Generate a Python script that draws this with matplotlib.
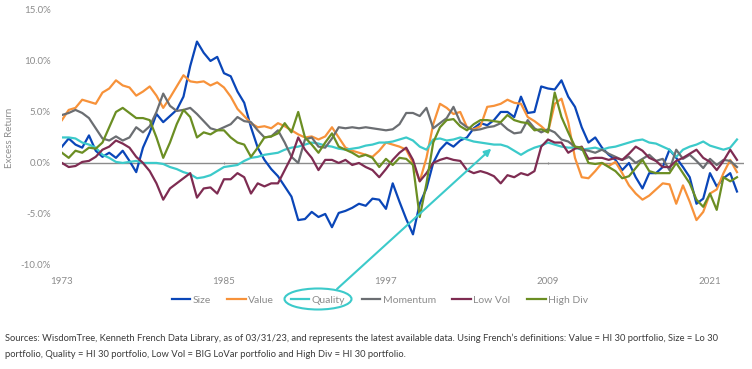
import numpy as np
import matplotlib
matplotlib.use("Agg")
import matplotlib.pyplot as plt
from matplotlib import font_manager
from matplotlib.patches import Ellipse

# semi-annual readings, 1973.0 -> 2023.0 (excess return, %)
years = np.arange(1973, 2023.5, 0.5)

size = [1.6, 2.4, 1.8, 1.5, 2.7, 1.2, 0.6, 1.0, 0.5, 1.2,
        0.2, -0.9, 1.5, 3.0, 4.8, 4.0, 4.6, 5.2, 6.5, 9.5,
        11.9, 10.8, 10.0, 10.4, 8.8, 8.5, 7.0, 5.9, 3.5, 1.5,
        0.3, -0.6, -1.3, -2.3, -3.3, -5.6, -5.5, -4.8, -5.3, -5.0,
        -6.3, -4.9, -4.7, -4.4, -4.0, -4.2, -3.5, -3.6, -4.5, -2.0,
        -3.8, -5.5, -7.0, -4.0, -2.5, 0.0, 1.3, 2.0, 1.6, 2.2,
        2.5, 3.4, 3.9, 3.7, 4.2, 5.0, 5.0, 4.5, 6.5, 4.9,
        5.0, 7.5, 7.3, 7.2, 8.1, 6.5, 5.5, 3.5, 2.0, 2.5,
        1.5, 0.8, 0.3, -0.7, 0.0, -1.4, -2.5, -1.0, -1.0, -0.4,
        1.3, 0.5, -0.4, -1.4, -4.0, -3.5, -1.0, -2.3, -1.5, -1.0,
        -2.8]
value = [4.2, 5.2, 5.4, 6.2, 6.0, 5.8, 6.9, 7.3, 8.1, 7.6,
         7.4, 6.6, 7.0, 7.5, 6.6, 5.4, 6.4, 7.5, 8.6, 8.0,
         7.9, 8.0, 7.6, 7.9, 7.4, 6.5, 5.3, 4.6, 3.9, 3.5,
         3.6, 3.4, 3.9, 3.6, 3.2, 2.8, 2.5, 2.6, 2.3, 2.6,
         3.5, 2.5, 1.5, 1.2, 1.0, 0.8, 0.6, 1.2, 2.0, 1.8,
         1.6, 1.3, 0.0, -1.8, 0.5, 3.8, 5.8, 5.4, 4.8, 5.0,
         3.5, 3.3, 3.6, 5.5, 5.6, 5.8, 6.2, 5.9, 5.8, 4.5,
         4.1, 3.6, 3.0, 5.8, 6.3, 4.0, 0.5, -1.4, -1.5, -0.8,
         0.0, -0.3, 0.1, -1.0, -2.2, -3.0, -3.6, -3.2, -2.6, -2.0,
         -2.1, -4.0, -2.2, -3.8, -5.6, -4.8, -3.0, -2.6, -1.0, 0.3,
         -0.9]
quality = [2.5, 2.5, 2.4, 2.0, 1.8, 1.5, 0.8, 0.5, 0.1, 0.0,
           0.1, 0.2, 0.0, 0.0, 0.0, -0.1, -0.4, -0.6, -0.9, -1.1,
           -1.5, -1.4, -1.2, -0.8, -0.4, -0.3, -0.2, 0.2, 0.5, 0.6,
           0.8, 0.9, 1.0, 1.3, 1.5, 1.6, 1.8, 2.0, 1.9, 1.7,
           1.6, 1.4, 1.3, 1.4, 1.5, 1.7, 1.8, 2.0, 2.0, 2.1,
           2.3, 2.5, 2.2, 1.6, 1.3, 2.3, 2.4, 2.2, 2.3, 2.5,
           2.3, 2.1, 2.0, 1.9, 1.8, 1.8, 1.6, 1.2, 0.8, 1.2,
           1.5, 1.7, 2.0, 1.8, 1.6, 1.5, 1.5, 1.3, 1.4, 1.5,
           1.3, 1.5, 1.6, 1.8, 2.0, 2.2, 2.3, 2.0, 1.9, 1.6,
           1.3, 0.6, 1.3, 1.6, 1.8, 2.1, 1.7, 1.5, 1.3, 1.5,
           2.3]
momentum = [4.7, 4.9, 5.2, 4.9, 4.4, 3.4, 2.4, 2.2, 2.6, 2.2,
            2.5, 3.5, 3.0, 3.6, 5.0, 6.8, 5.6, 5.1, 5.2, 5.4,
            4.8, 4.1, 3.4, 3.2, 3.5, 3.8, 4.5, 4.1, 4.0, 3.2,
            2.5, 2.6, 3.2, 2.0, 0.6, 0.0, 2.3, 2.5, 1.6, 1.5,
            2.4, 3.5, 3.4, 3.5, 3.4, 3.5, 3.4, 3.3, 3.2, 3.3,
            3.8, 4.9, 4.9, 4.6, 5.4, 3.4, 3.9, 4.4, 5.5, 4.0,
            3.5, 3.2, 3.3, 3.5, 3.6, 3.9, 3.3, 2.9, 3.0, 4.2,
            3.4, 3.0, 3.3, 3.0, 2.3, 2.1, 1.6, 1.3, 1.2, 1.0,
            1.3, 0.9, 0.6, 0.3, 0.6, 0.0, 0.4, 0.8, 0.2, 0.4,
            -0.7, 1.3, 0.4, 0.8, 0.2, -0.5, 0.4, -0.2, 0.3, 0.2,
            -0.4]
low_vol = [0.0, -0.4, -0.3, 0.1, 0.2, 0.6, 1.3, 1.6, 2.2, 1.9,
           1.5, 0.6, 0.0, -0.8, -2.0, -3.6, -2.5, -2.0, -1.5, -1.0,
           -3.4, -2.5, -2.4, -3.0, -1.6, -1.6, -1.0, -1.4, -3.0, -2.0,
           -2.3, -2.0, -2.0, -0.7, 0.6, 2.5, 1.3, 0.5, -0.7, 0.3,
           0.3, 0.0, 0.3, -0.2, 0.0, -0.4, -0.7, -1.4, -0.6, 0.3,
           1.0, 1.5, 0.3, -1.8, -1.0, 0.0, 0.3, 0.5, 0.3, 0.2,
           -0.7, -1.0, -0.8, -1.0, -1.3, -2.0, -1.2, -1.4, -1.0, -1.2,
           -0.8, 1.6, 2.3, 2.0, 2.0, 1.0, 1.4, 1.6, 0.4, 0.5,
           0.5, 0.3, 0.5, 0.3, 0.9, 1.6, 1.2, 0.5, 0.2, -0.4,
           -0.4, 0.2, 0.5, 0.9, 1.3, 0.5, 0.1, -0.7, 0.2, 1.3,
           0.3]
high_div = [1.0, 0.5, 1.2, 1.0, 1.5, 1.4, 2.0, 3.5, 5.0, 5.4,
            4.9, 4.4, 4.4, 4.2, 2.5, 0.5, 2.0, 3.8, 5.2, 4.5,
            2.5, 3.0, 2.8, 3.2, 3.2, 2.5, 2.0, 1.8, 0.6, 1.5,
            2.5, 2.6, 2.9, 3.9, 3.0, 5.0, 2.5, 1.8, 1.0, 2.0,
            2.9, 1.6, 1.3, 1.0, 0.6, 0.8, 0.5, -0.4, 0.4, -0.2,
            0.5, 0.4, -0.2, -5.3, -2.0, 2.0, 3.5, 4.2, 4.3, 3.6,
            3.2, 3.8, 4.2, 4.2, 4.1, 4.0, 4.7, 4.2, 4.0, 3.9,
            3.2, 3.3, 3.0, 6.9, 4.5, 3.0, 1.6, 1.5, 0.0, -0.1,
            0.0, -0.4, -0.8, -1.5, -1.3, -0.5, 0.3, -0.8, -1.0, -1.0,
            -1.0, 0.0, -1.0, -2.0, -3.6, -4.3, -3.0, -4.6, -1.4, -1.8,
            -1.4]

labels = ["Size", "Value", "Quality", "Momentum", "Low Vol", "High Div"]
colors = ["#0a46b8", "#f7923a", "#3ccaca", "#6b6e72", "#7e2c52", "#6b8e23"]
series = [size, value, quality, momentum, low_vol, high_div]
year_ticks = [1973, 1985, 1997, 2009, 2021]

available = {f.name for f in font_manager.fontManager.ttflist}
font = "Liberation Sans Narrow" if "Liberation Sans Narrow" in available else "Lato"
plt.rcParams["font.family"] = [font, "DejaVu Sans"]

fig = plt.figure(figsize=(7.52, 3.69), dpi=100)
ax = fig.add_axes([0.0824, 0.282, 0.9066, 0.691])

ax.axhline(0, color="#8c8c8c", lw=1.0, zorder=1)
for vals, lab, col in zip(series, labels, colors):
    ax.plot(years, vals, color=col, lw=1.6, label=lab, zorder=2)

ax.set_xlim(1973, 2023.5)
ax.set_ylim(-10, 15)
ax.set_yticks(np.arange(-10, 16, 5))
ax.set_yticklabels([f"{v:.1f}%" for v in np.arange(-10, 16, 5)])
ax.set_xticks(year_ticks)
ax.set_xticklabels([str(y) for y in year_ticks])
ax.tick_params(axis="both", length=0, labelsize=7, labelcolor="#8c8c8c")
ax.tick_params(axis="y", pad=8)
ax.tick_params(axis="x", pad=9)
for s in ax.spines.values():
    s.set_visible(False)
ax.set_ylabel("Excess Return", fontsize=7, color="#8c8c8c", labelpad=5)

# little tick marks sitting on the zero line
sec = ax.secondary_xaxis(0.4)
sec.set_xticks(year_ticks)
sec.set_xticklabels([])
sec.tick_params(length=2, width=0.8, color="#8c8c8c", direction="inout")
sec.spines["bottom"].set_visible(False)

leg = fig.legend(loc="center", bbox_to_anchor=(0.505, 0.187), ncol=6, frameon=False,
                 fontsize=7.5, handlelength=1.8, handletextpad=0.2, columnspacing=1.6)
for t in leg.get_texts():
    t.set_color("#8c8c8c")

# callout around Quality
fig.patches.append(Ellipse((318 / 752, 1 - 299 / 369), 67 / 752, 21 / 369,
                           transform=fig.transFigure, fill=False,
                           edgecolor="#3ccaca", lw=1.5))
ax.annotate("", xy=(2004.8, 1.4), xycoords="data",
            xytext=(337 / 752, 1 - 289 / 369), textcoords="figure fraction",
            arrowprops=dict(arrowstyle="-|>", color="#3ccaca", lw=1.5,
                            mutation_scale=10, shrinkA=0, shrinkB=0),
            annotation_clip=False)

note = ("Sources: WisdomTree, Kenneth French Data Library, as of 03/31/23, and represents the latest "
        "available data. Using French\u2019s definitions: Value = HI 30 portfolio, Size = Lo 30\n"
        "portfolio, Quality = HI 30 portfolio, Low Vol = BIG LoVar portfolio and High Div = HI 30 portfolio.")
fig.text(0.007, 1 - 346 / 369, note, fontsize=6.75, color="#3a3a3a", va="center",
         linespacing=2.0)

fig.savefig("out.png", dpi=100)
